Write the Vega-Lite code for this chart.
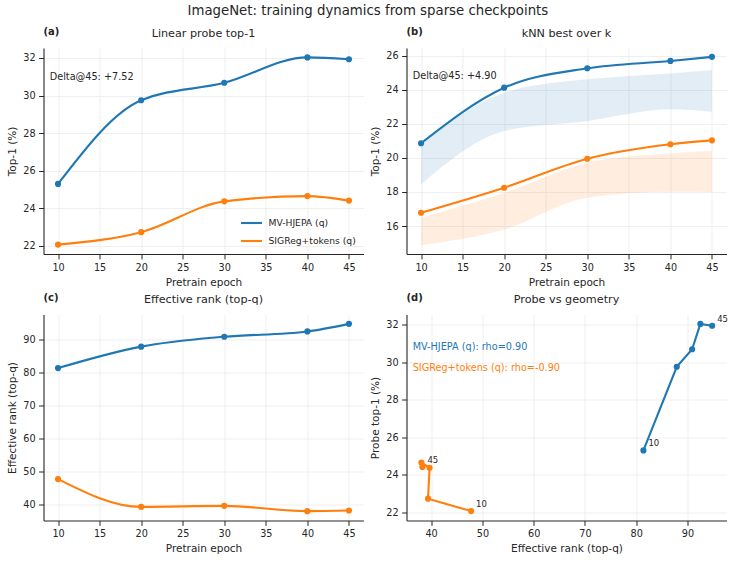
{
  "$schema": "https://vega.github.io/schema/vega-lite/v6.json",
  "padding": {"left": 7.5, "top": 4, "right": 4, "bottom": 4},
  "title": {"text": "ImageNet: training dynamics from sparse checkpoints", "fontSize": 13.3, "anchor": "middle", "offset": 9},
  "datasets": {
    "main": [
      {"method": "MV-HJEPA (q)", "epoch": 10, "probe": 25.30, "knn": 20.86, "knn_lo": 18.45, "knn_hi": 20.80, "rank": 81.4},
      {"method": "MV-HJEPA (q)", "epoch": 20, "probe": 29.75, "knn": 24.12, "knn_lo": 21.58, "knn_hi": 23.83, "rank": 87.9},
      {"method": "MV-HJEPA (q)", "epoch": 30, "probe": 30.68, "knn": 25.26, "knn_lo": 22.17, "knn_hi": 24.61, "rank": 90.9},
      {"method": "MV-HJEPA (q)", "epoch": 40, "probe": 32.03, "knn": 25.69, "knn_lo": 22.85, "knn_hi": 24.96, "rank": 92.5},
      {"method": "MV-HJEPA (q)", "epoch": 45, "probe": 31.93, "knn": 25.93, "knn_lo": 22.71, "knn_hi": 25.14, "rank": 94.8},
      {"method": "SIGReg+tokens (q)", "epoch": 10, "probe": 22.07, "knn": 16.78, "knn_lo": 14.88, "knn_hi": 16.49, "rank": 47.8},
      {"method": "SIGReg+tokens (q)", "epoch": 20, "probe": 22.73, "knn": 18.25, "knn_lo": 15.80, "knn_hi": 17.96, "rank": 39.4},
      {"method": "SIGReg+tokens (q)", "epoch": 30, "probe": 24.37, "knn": 19.95, "knn_lo": 17.66, "knn_hi": 19.72, "rank": 39.7},
      {"method": "SIGReg+tokens (q)", "epoch": 40, "probe": 24.65, "knn": 20.80, "knn_lo": 18.01, "knn_hi": 20.27, "rank": 38.1},
      {"method": "SIGReg+tokens (q)", "epoch": 45, "probe": 24.41, "knn": 21.03, "knn_lo": 18.00, "knn_hi": 20.40, "rank": 38.3}
    ]
  },
  "columns": 2,
  "spacing": {"column": 7, "row": 4.5},
  "resolve": {"scale": {"color": "independent", "x": "independent", "y": "independent"}, "legend": {"color": "independent"}},
  "concat": [
    {
      "width": 320, "height": 206,
      "data": {"name": "main"},
      "layer": [
        {
          "mark": {"type": "line", "interpolate": "monotone", "strokeWidth": 2.1},
          "encoding": {
            "x": {"field": "epoch", "type": "quantitative", "scale": {"domain": [8.25, 46.75], "nice": false, "zero": false}, "axis": {"values": [10, 15, 20, 25, 30, 35, 40, 45], "title": "Pretrain epoch"}},
            "y": {"field": "probe", "type": "quantitative", "scale": {"domain": [21.57, 32.53], "nice": false, "zero": false}, "axis": {"values": [22, 24, 26, 28, 30, 32], "title": "Top-1 (%)"}},
            "color": {"field": "method", "type": "nominal", "scale": {"domain": ["MV-HJEPA (q)", "SIGReg+tokens (q)"], "range": ["#1f77b4", "#ff7f0e"]},
              "legend": {"orient": "bottom-right", "title": null, "symbolType": "stroke", "symbolStrokeWidth": 2.1, "symbolSize": 441, "labelFontSize": 9.2, "labelFont": "DejaVu Sans", "labelColor": "#262626", "labelOffset": 5, "offset": 7.5, "rowPadding": -8.4, "padding": 0}}
          }
        },
        {
          "mark": {"type": "circle", "size": 38, "opacity": 1},
          "encoding": {
            "x": {"field": "epoch", "type": "quantitative"},
            "y": {"field": "probe", "type": "quantitative"},
            "color": {"field": "method", "type": "nominal"}
          }
        },
        {
          "data": {"values": [{}]},
          "mark": {"type": "text", "text": "Delta@45: +7.52", "align": "left", "baseline": "middle", "fontSize": 9.7, "color": "#262626"},
          "encoding": {"x": {"datum": 9.0}, "y": {"datum": 31.0}}
        },
        {
          "data": {"values": [{}]},
          "mark": {"type": "text", "text": "(a)", "align": "left", "baseline": "middle", "fontSize": 10, "fontWeight": "bold", "color": "#262626"},
          "encoding": {"x": {"datum": 8.25}, "y": {"datum": 33.39}}
        },
        {
          "data": {"values": [{}]},
          "mark": {"type": "text", "text": "Linear probe top-1", "align": "center", "baseline": "middle", "fontSize": 11.2, "color": "#262626"},
          "encoding": {"x": {"datum": 27.5}, "y": {"datum": 33.25}}
        }
      ]
    },
    {
      "width": 320, "height": 206,
      "data": {"name": "main"},
      "layer": [
        {
          "mark": {"type": "area", "interpolate": "monotone", "opacity": 0.13},
          "encoding": {
            "x": {"field": "epoch", "type": "quantitative", "scale": {"domain": [8.25, 46.75], "nice": false, "zero": false}, "axis": {"values": [10, 15, 20, 25, 30, 35, 40, 45], "title": "Pretrain epoch"}},
            "y": {"field": "knn_lo", "type": "quantitative", "scale": {"domain": [14.36, 26.45], "nice": false, "zero": false}, "axis": {"values": [16, 18, 20, 22, 24, 26], "title": "Top-1 (%)"}},
            "y2": {"field": "knn_hi"},
            "color": {"field": "method", "type": "nominal", "scale": {"domain": ["MV-HJEPA (q)", "SIGReg+tokens (q)"], "range": ["#1f77b4", "#ff7f0e"]}, "legend": null}
          }
        },
        {
          "mark": {"type": "line", "interpolate": "monotone", "strokeWidth": 2.1},
          "encoding": {
            "x": {"field": "epoch", "type": "quantitative"},
            "y": {"field": "knn", "type": "quantitative"},
            "color": {"field": "method", "type": "nominal", "legend": null}
          }
        },
        {
          "mark": {"type": "circle", "size": 38, "opacity": 1},
          "encoding": {
            "x": {"field": "epoch", "type": "quantitative"},
            "y": {"field": "knn", "type": "quantitative"},
            "color": {"field": "method", "type": "nominal", "legend": null}
          }
        },
        {
          "data": {"values": [{}]},
          "mark": {"type": "text", "text": "Delta@45: +4.90", "align": "left", "baseline": "middle", "fontSize": 9.7, "color": "#262626"},
          "encoding": {"x": {"datum": 9.0}, "y": {"datum": 24.81}}
        },
        {
          "data": {"values": [{}]},
          "mark": {"type": "text", "text": "(b)", "align": "left", "baseline": "middle", "fontSize": 10, "fontWeight": "bold", "color": "#262626"},
          "encoding": {"x": {"datum": 8.25}, "y": {"datum": 27.41}}
        },
        {
          "data": {"values": [{}]},
          "mark": {"type": "text", "text": "kNN best over k", "align": "center", "baseline": "middle", "fontSize": 11.2, "color": "#262626"},
          "encoding": {"x": {"datum": 27.5}, "y": {"datum": 27.25}}
        }
      ]
    },
    {
      "width": 320, "height": 206,
      "data": {"name": "main"},
      "layer": [
        {
          "mark": {"type": "line", "interpolate": "monotone", "strokeWidth": 2.1},
          "encoding": {
            "x": {"field": "epoch", "type": "quantitative", "scale": {"domain": [8.25, 46.75], "nice": false, "zero": false}, "axis": {"values": [10, 15, 20, 25, 30, 35, 40, 45], "title": "Pretrain epoch"}},
            "y": {"field": "rank", "type": "quantitative", "scale": {"domain": [35.27, 97.63], "nice": false, "zero": false}, "axis": {"values": [40, 50, 60, 70, 80, 90], "title": "Effective rank (top-q)"}},
            "color": {"field": "method", "type": "nominal", "scale": {"domain": ["MV-HJEPA (q)", "SIGReg+tokens (q)"], "range": ["#1f77b4", "#ff7f0e"]}, "legend": null}
          }
        },
        {
          "mark": {"type": "circle", "size": 38, "opacity": 1},
          "encoding": {
            "x": {"field": "epoch", "type": "quantitative"},
            "y": {"field": "rank", "type": "quantitative"},
            "color": {"field": "method", "type": "nominal", "legend": null}
          }
        },
        {
          "data": {"values": [{}]},
          "mark": {"type": "text", "text": "(c)", "align": "left", "baseline": "middle", "fontSize": 10, "fontWeight": "bold", "color": "#262626"},
          "encoding": {"x": {"datum": 8.25}, "y": {"datum": 102.65}}
        },
        {
          "data": {"values": [{}]},
          "mark": {"type": "text", "text": "Effective rank (top-q)", "align": "center", "baseline": "middle", "fontSize": 11.2, "color": "#262626"},
          "encoding": {"x": {"datum": 27.5}, "y": {"datum": 102.1}}
        }
      ]
    },
    {
      "width": 320, "height": 206,
      "data": {"name": "main"},
      "layer": [
        {
          "mark": {"type": "line", "interpolate": "linear", "strokeWidth": 2.1},
          "encoding": {
            "x": {"field": "rank", "type": "quantitative", "scale": {"domain": [35.2, 97.6], "nice": false, "zero": false}, "axis": {"values": [40, 50, 60, 70, 80, 90], "title": "Effective rank (top-q)"}},
            "y": {"field": "probe", "type": "quantitative", "scale": {"domain": [21.57, 32.53], "nice": false, "zero": false}, "axis": {"values": [22, 24, 26, 28, 30, 32], "title": "Probe top-1 (%)"}},
            "order": {"field": "epoch", "type": "quantitative"},
            "color": {"field": "method", "type": "nominal", "scale": {"domain": ["MV-HJEPA (q)", "SIGReg+tokens (q)"], "range": ["#1f77b4", "#ff7f0e"]}, "legend": null}
          }
        },
        {
          "mark": {"type": "circle", "size": 38, "opacity": 1},
          "encoding": {
            "x": {"field": "rank", "type": "quantitative"},
            "y": {"field": "probe", "type": "quantitative"},
            "color": {"field": "method", "type": "nominal", "legend": null}
          }
        },
        {
          "transform": [{"filter": "datum.epoch == 10 || datum.epoch == 45"}],
          "mark": {"type": "text", "align": "left", "baseline": "middle", "dx": 5, "dy": -7, "fontSize": 8.5, "color": "#262626"},
          "encoding": {
            "x": {"field": "rank", "type": "quantitative"},
            "y": {"field": "probe", "type": "quantitative"},
            "text": {"field": "epoch", "type": "quantitative"}
          }
        },
        {
          "data": {"values": [{}]},
          "mark": {"type": "text", "text": "MV-HJEPA (q): rho=0.90", "align": "left", "baseline": "middle", "fontSize": 9.7, "color": "#1f77b4"},
          "encoding": {"x": {"datum": 36.4}, "y": {"datum": 30.78}}
        },
        {
          "data": {"values": [{}]},
          "mark": {"type": "text", "text": "SIGReg+tokens (q): rho=-0.90", "align": "left", "baseline": "middle", "fontSize": 9.7, "color": "#ff7f0e"},
          "encoding": {"x": {"datum": 36.4}, "y": {"datum": 29.69}}
        },
        {
          "data": {"values": [{}]},
          "mark": {"type": "text", "text": "(d)", "align": "left", "baseline": "middle", "fontSize": 10, "fontWeight": "bold", "color": "#262626"},
          "encoding": {"x": {"datum": 35.2}, "y": {"datum": 33.41}}
        },
        {
          "data": {"values": [{}]},
          "mark": {"type": "text", "text": "Probe vs geometry", "align": "center", "baseline": "middle", "fontSize": 11.2, "color": "#262626"},
          "encoding": {"x": {"datum": 66.4}, "y": {"datum": 33.32}}
        }
      ]
    }
  ],
  "config": {
    "font": "DejaVu Sans",
    "view": {"stroke": null},
    "axis": {
      "labelFont": "DejaVu Sans", "labelFontSize": 9.7, "labelColor": "#262626",
      "titleFont": "DejaVu Sans", "titleFontSize": 10.5, "titleFontWeight": "normal", "titleColor": "#262626",
      "domainColor": "#262626", "domainWidth": 1.1, "tickColor": "#262626", "tickSize": 4.9, "tickWidth": 1,
      "labelPadding": 3.5, "gridColor": "#ebebeb", "gridWidth": 0.8, "titlePadding": 5
    },
    "title": {"font": "DejaVu Sans", "fontSize": 13.3, "fontWeight": "normal", "color": "#262626"}
  }
}
